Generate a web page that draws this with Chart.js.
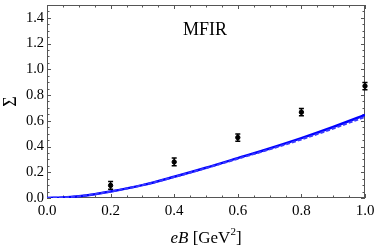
<!DOCTYPE html>
<html>
<head>
<meta charset="utf-8">
<script src="https://cdn.jsdelivr.net/npm/chart.js@4.4.0/dist/chart.umd.min.js"></script>
<style>
  html, body { margin: 0; padding: 0; background: #fff; }
  #wrap { width: 374px; height: 245px; }
</style>
</head>
<body>
<div id="wrap"><canvas id="sigmaChart"></canvas></div>
<script>
// curve samples (eB in GeV^2)
const curveX = [0, 0.05, 0.1, 0.15, 0.2, 0.3, 0.4, 0.5, 0.6, 0.7, 0.8, 0.9, 1.0];
const solidY = [0, 0.004, 0.014, 0.03, 0.05, 0.1, 0.165, 0.235, 0.31, 0.385, 0.465, 0.552, 0.645];
const dashedY = [0, 0.004, 0.014, 0.03, 0.05, 0.1, 0.163, 0.232, 0.305, 0.378, 0.455, 0.54, 0.63];

// lattice points with errors
const pointX = [0.2, 0.4, 0.6, 0.8, 1.0];
const pointY = [0.098, 0.28, 0.47, 0.667, 0.87];
const pointErr = [0.03, 0.03, 0.028, 0.028, 0.028];

const xTicks = [0, 0.2, 0.4, 0.6, 0.8, 1.0];
const yTicks = [0, 0.2, 0.4, 0.6, 0.8, 1.0, 1.2, 1.4];

const serif = '"Liberation Serif", "DejaVu Serif", serif';
const frameColor = '#555';

function toXY(xs, ys) {
    return xs.map((x, i) => ({x: x, y: ys[i]}));
}

const errorBars = {
    id: 'errorBars',
    afterDatasetsDraw(chart) {
        const ctx = chart.ctx;
        const xs = chart.scales.x, ys = chart.scales.y;
        ctx.save();
        ctx.strokeStyle = '#000';
        ctx.lineWidth = 1.5;
        pointX.forEach((x, i) => {
            const px = xs.getPixelForValue(x);
            const top = ys.getPixelForValue(pointY[i] + pointErr[i]);
            const bot = ys.getPixelForValue(pointY[i] - pointErr[i]);
            ctx.beginPath();
            ctx.moveTo(px, top); ctx.lineTo(px, bot);
            ctx.moveTo(px - 2.5, top); ctx.lineTo(px + 2.5, top);
            ctx.moveTo(px - 2.5, bot); ctx.lineTo(px + 2.5, bot);
            ctx.stroke();
        });
        ctx.restore();
    }
};

// Mathematica-style frame with inward ticks on all sides, drawn under the data
const frame = {
    id: 'frame',
    beforeDatasetsDraw(chart) {
        const ctx = chart.ctx;
        const a = chart.chartArea;
        const xs = chart.scales.x, ys = chart.scales.y;
        ctx.save();
        ctx.strokeStyle = frameColor;
        ctx.lineWidth = 1;
        ctx.strokeRect(a.left + 0.5, a.top + 0.5, a.right - a.left - 1, a.bottom - a.top - 1);
        ctx.beginPath();
        for (let v = 0; v <= 1.0001; v += 0.05) {
            const major = Math.abs(v / 0.2 - Math.round(v / 0.2)) < 1e-6;
            const len = major ? 4 : 2.5;
            const px = Math.round(xs.getPixelForValue(v)) + 0.5;
            ctx.moveTo(px, a.bottom); ctx.lineTo(px, a.bottom - len);
            ctx.moveTo(px, a.top); ctx.lineTo(px, a.top + len);
        }
        for (let v = 0; v <= 1.5001; v += 0.05) {
            const major = Math.abs(v / 0.2 - Math.round(v / 0.2)) < 1e-6;
            const len = major ? 4 : 2.5;
            const py = Math.round(ys.getPixelForValue(v)) + 0.5;
            ctx.moveTo(a.left, py); ctx.lineTo(a.left + len, py);
            ctx.moveTo(a.right, py); ctx.lineTo(a.right - len, py);
        }
        ctx.stroke();
        ctx.restore();
    },
    afterDraw(chart) {
        const ctx = chart.ctx;
        const a = chart.chartArea;
        ctx.save();
        // label inside the plot
        ctx.fillStyle = '#000';
        ctx.font = '18px ' + serif;
        ctx.textAlign = 'center';
        ctx.textBaseline = 'alphabetic';
        ctx.fillText('MFIR', 205, 35);

        // x axis title: eB [GeV^2]
        const cx = (a.left + a.right) / 2;
        const base = 243;
        const parts = [
            {t: 'eB', f: 'italic 17px ' + serif, dy: 0},
            {t: ' [GeV', f: '17px ' + serif, dy: 0},
            {t: '2', f: '11px ' + serif, dy: -8},
            {t: ']', f: '17px ' + serif, dy: 0}
        ];
        let total = 0;
        parts.forEach(p => { ctx.font = p.f; p.w = ctx.measureText(p.t).width; total += p.w; });
        let x = cx - total / 2;
        ctx.textAlign = 'left';
        parts.forEach(p => { ctx.font = p.f; ctx.fillText(p.t, x, base + p.dy); x += p.w; });
        ctx.restore();
    }
};

const ctx = document.getElementById('sigmaChart').getContext('2d');
const chart = new Chart(ctx, {
    type: 'scatter',
    data: {
        datasets: [
            {
                type: 'line',
                data: toXY(curveX, dashedY),
                borderColor: '#3a3aff',
                borderWidth: 2,
                borderDash: [4, 2],
                pointRadius: 0,
                cubicInterpolationMode: 'monotone',
                fill: false
            },
            {
                type: 'line',
                data: toXY(curveX, solidY),
                borderColor: '#0000ff',
                borderWidth: 2.5,
                pointRadius: 0,
                cubicInterpolationMode: 'monotone',
                fill: false
            },
            {
                data: toXY(pointX, pointY),
                backgroundColor: '#000',
                borderColor: '#000',
                pointRadius: 2.2,
                pointStyle: 'circle',
                clip: false
            }
        ]
    },
    options: {
        responsive: true,
        maintainAspectRatio: false,
        animation: false,
        layout: { padding: { top: 1, right: 9, left: 0, bottom: 0 } },
        plugins: {
            legend: { display: false },
            tooltip: { enabled: false }
        },
        scales: {
            x: {
                type: 'linear',
                min: 0,
                max: 1,
                afterBuildTicks: s => { s.ticks = xTicks.map(v => ({value: v})); },
                afterFit: s => { s.height = 47; s.paddingLeft = 0; s.paddingRight = 0; },
                grid: { display: false, drawTicks: false },
                border: { display: false },
                ticks: {
                    padding: 4,
                    color: '#000',
                    font: { family: serif, size: 15 },
                    maxRotation: 0,
                    callback: v => v.toFixed(1)
                }
            },
            y: {
                type: 'linear',
                min: 0,
                max: 1.5,
                afterBuildTicks: s => { s.ticks = yTicks.map(v => ({value: v})); },
                afterFit: s => { s.width = 47; s.paddingTop = 0; s.paddingBottom = 0; },
                grid: { display: false, drawTicks: false },
                border: { display: false },
                title: {
                    display: true,
                    text: 'Σ',
                    color: '#000',
                    font: { family: serif, size: 18 },
                    padding: { top: 0, bottom: 0 }
                },
                ticks: {
                    padding: 3,
                    color: '#000',
                    font: { family: serif, size: 14.5 },
                    callback: v => v.toFixed(1)
                }
            }
        }
    },
    plugins: [errorBars, frame]
});
</script>
</body>
</html>
